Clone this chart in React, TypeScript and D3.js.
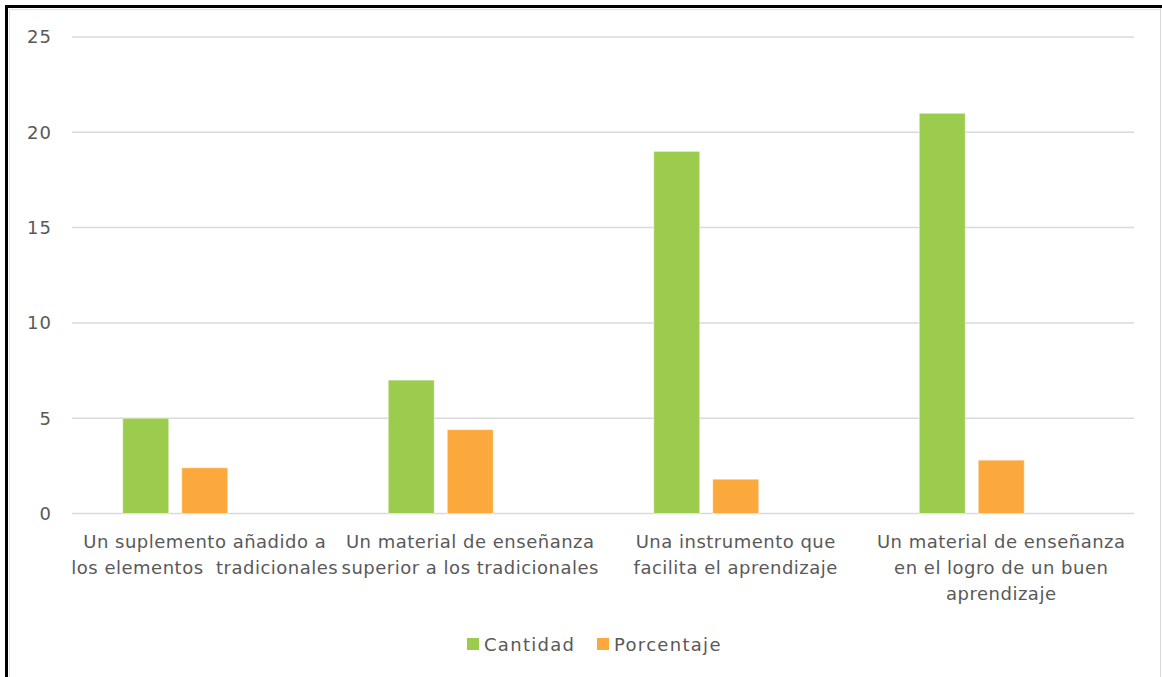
import React from "react";
import * as d3 from "d3";

const categories = [
  ["Un suplemento añadido a", "los elementos  tradicionales"],
  ["Un material de enseñanza", "superior a los tradicionales"],
  ["Una instrumento que", "facilita el aprendizaje"],
  ["Un material de enseñanza", "en el logro de un buen", "aprendizaje"],
];
const cantidad = [5, 7, 19, 21];
const porcentaje = [2.4, 4.4, 1.8, 2.8];
const seriesNames = ["Cantidad", "Porcentaje"];
const seriesColors = ["#9BCC4D", "#FBA83C"];
const yTicks = [0, 5, 10, 15, 20, 25];

const W = 1162;
const H = 677;
const FONT = "'DejaVu Sans', sans-serif";
const TEXT = "#595959";

export default function App() {
  const x0 = d3
    .scaleBand<number>()
    .domain(d3.range(categories.length))
    .range([72, 1134])
    .paddingInner(0)
    .paddingOuter(0);
  const x1 = d3
    .scaleBand<string>()
    .domain(["Cantidad", "Porcentaje", "_empty"])
    .range([0, x0.bandwidth()])
    .paddingInner(13 / 59)
    .paddingOuter(0.86);
  const y = d3.scaleLinear().domain([0, 25]).range([513.5, 37]);
  const values = [cantidad, porcentaje];

  return (
    <svg
      width={W}
      height={H}
      style={{ position: "absolute", left: 0, top: 0, background: "#fff" }}
    >
      <rect x={0} y={0} width={W} height={H} fill="#fff" />
      {/* frame */}
      <line x1={9.5} y1={9.5} x2={1160} y2={9.5} stroke="#e2e2e2" strokeWidth={1} />
      <line x1={9.5} y1={9.5} x2={9.5} y2={H} stroke="#e2e2e2" strokeWidth={1} />
      <line x1={1160.5} y1={8} x2={1160.5} y2={H} stroke="#d9d9d9" strokeWidth={1} />
      <rect x={5} y={5} width={W - 5} height={3} fill="#000" />
      <rect x={5} y={5} width={3} height={H - 5} fill="#000" />

      {/* gridlines */}
      {yTicks.map((t) => (
        <g key={t}>
          <line
            x1={72}
            x2={1134}
            y1={y(t)}
            y2={y(t)}
            stroke="#d9d9d9"
            strokeWidth={1.5}
          />
          <text
            x={52}
            y={y(t)}
            dy="0.36em"
            textAnchor="end"
            fontFamily={FONT}
            fontSize={18}
            fill={TEXT}
            letterSpacing={1}
          >
            {t}
          </text>
        </g>
      ))}

      {/* bars */}
      {categories.map((c, i) => (
        <g key={i} transform={`translate(${x0(i)},0)`}>
          {values.map((vals, s) => (
            <rect
              key={s}
              x={x1(seriesNames[s])}
              y={y(vals[i])}
              width={x1.bandwidth()}
              height={y(0) - y(vals[i])}
              fill={seriesColors[s]}
              stroke="#ffffff"
              strokeOpacity={0.5}
              strokeWidth={1}
            />
          ))}
        </g>
      ))}

      {/* category labels */}
      {categories.map((lines, i) => (
        <text
          key={i}
          x={(x0(i) as number) + x0.bandwidth() / 2}
          y={548}
          textAnchor="middle"
          fontFamily={FONT}
          fontSize={18}
          fill={TEXT}
          letterSpacing={0.5}
        >
          {lines.map((l, j) => (
            <tspan key={j} x={(x0(i) as number) + x0.bandwidth() / 2} dy={j === 0 ? 0 : 26} style={{ whiteSpace: "pre" }}>
              {l}
            </tspan>
          ))}
        </text>
      ))}

      {/* legend */}
      {seriesNames.map((n, s) => {
        const lx = [467, 597][s];
        return (
          <g key={n}>
            <rect x={lx} y={638} width={12} height={12} fill={seriesColors[s]} />
            <text
              x={lx + 17}
              y={645}
              dy="0.36em"
              fontFamily={FONT}
              fontSize={18}
              fill={TEXT}
              letterSpacing={1.3}
            >
              {n}
            </text>
          </g>
        );
      })}
    </svg>
  );
}
